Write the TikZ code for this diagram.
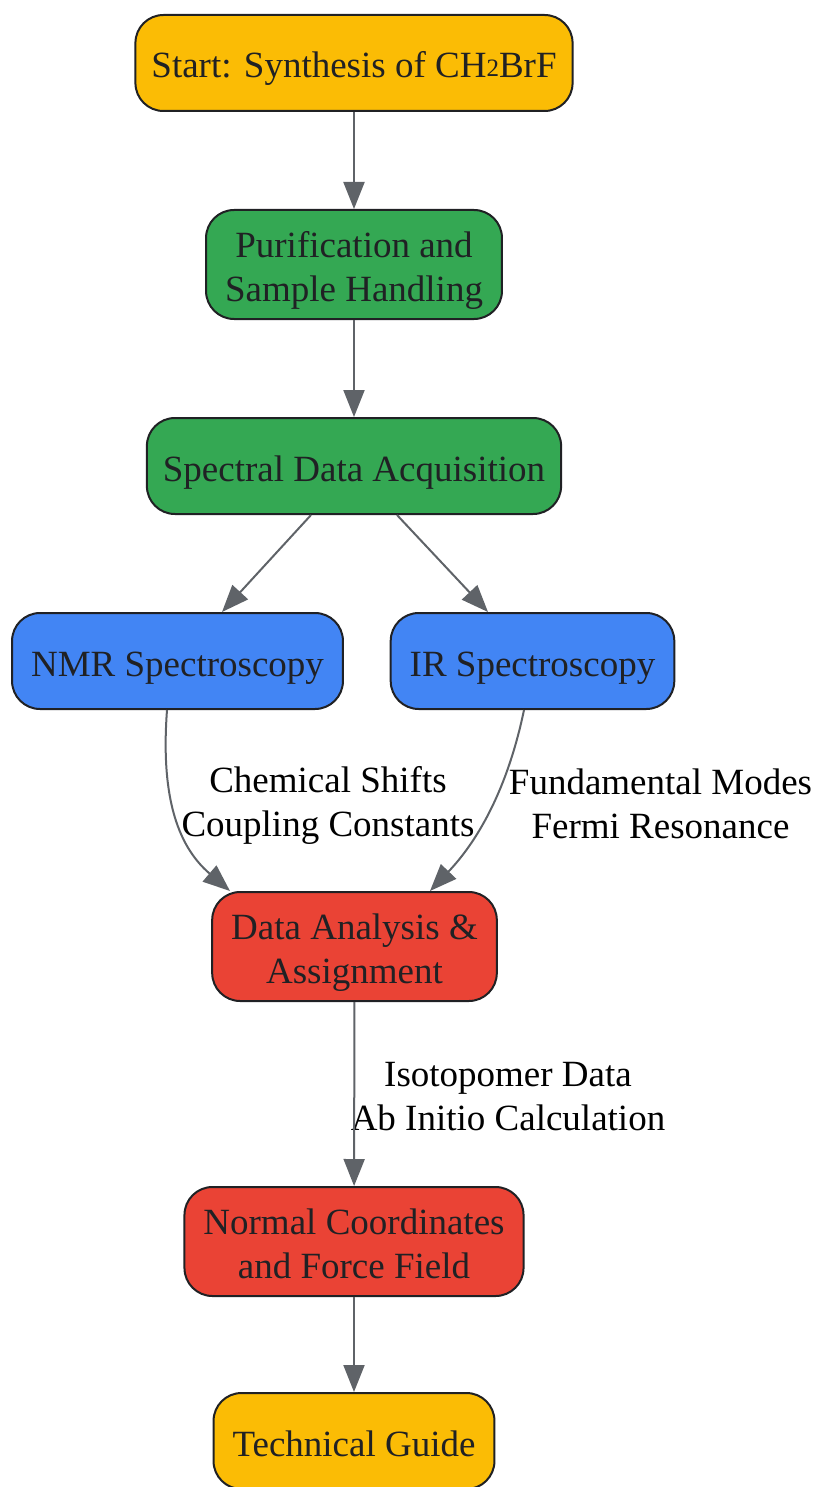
\documentclass[tikz,border=0pt]{standalone}
\usepackage{fontspec}
\setmainfont{Liberation Serif}
\usetikzlibrary{arrows.meta}

\definecolor{startyellow}{HTML}{FBBC05}
\definecolor{prepgreen}{HTML}{34A853}
\definecolor{specblue}{HTML}{4285F4}
\definecolor{anared}{HTML}{EA4335}
\definecolor{edgegray}{HTML}{5F6368}
\definecolor{boxline}{HTML}{202124}

\newcommand{\subtwo}{\raisebox{1pt}{\fontsize{25}{25}\selectfont 2}}

\tikzset{
  box/.style={draw=boxline, line width=2pt, rounded corners=28pt, text=boxline,
    align=center, inner xsep=19pt, inner ysep=8.5pt, minimum height=96pt,
    text height=39pt, text depth=9pt,
    font=\fontsize{37}{44}\selectfont},
  twoline/.style={text height=83pt},
  flow/.style={draw=edgegray, line width=2pt, -{Triangle[length=27pt,width=21pt]}},
  elabel/.style={align=center, text=black, font=\fontsize{37}{44}\selectfont}
}

\begin{document}
\begin{tikzpicture}[x=1pt, y=-1pt]

  % Bounding box of the scheme
  \useasboundingbox (0,0) rectangle (817,1487);

  %%%%%%%%%%%%%%%%%%%%%%%%%%%%%%%%% Boxes %%%%%%%%%%%%%%%%%%%%%%%%%%%%%%%%%%%%
  \node[box, fill=startyellow, inner xsep=16pt] (Start) at (354,63) {Start: Synthesis of CH\subtwo BrF};
  \node[box, twoline, fill=prepgreen] (Purif) at (354,264.5) {Purification and\\Sample Handling};
  \node[box, fill=prepgreen, inner xsep=16pt] (Acq) at (354,466) {Spectral Data Acquisition};
  \node[box, fill=specblue] (NMR) at (177.5,661) {NMR Spectroscopy};
  \node[box, fill=specblue] (IR) at (532.5,661) {IR Spectroscopy};
  \node[box, twoline, fill=anared] (Anal) at (354.5,946.5) {Data Analysis \&\\Assignment};
  \node[box, twoline, fill=anared] (Norm) at (354,1241.5) {Normal Coordinates\\and Force Field};
  \node[box, fill=startyellow] (Guide) at (354,1441) {Technical Guide};

  %%%%%%%%%%%%%%%%%%%%%%%%%%%%%%%%% Labels %%%%%%%%%%%%%%%%%%%%%%%%%%%%%%%%%%%
  \node[elabel] (LabNMR) at (328,805) {Chemical Shifts\\Coupling Constants};
  \node[elabel] (LabIR) at (660.5,804) {Fundamental Modes\\Fermi Resonance};
  \node[elabel] (LabNorm) at (508,1097) {Isotopomer Data\\Ab Initio Calculation};

  %%%%%%%%%%%%%%%%%%%%%%%%%%%%%%%%% Arrows %%%%%%%%%%%%%%%%%%%%%%%%%%%%%%%%%%%
  \draw[flow] (Start) -- (Purif);
  \draw[flow] (Purif) -- (Acq);
  \draw[flow] ([xshift=-43pt]Acq.south) -- ([xshift=44.5pt]NMR.north);
  \draw[flow] ([xshift=43pt]Acq.south) -- ([xshift=-44.5pt]IR.north);
  \draw[flow] ([xshift=-10.5pt]NMR.south) .. controls +(-6,81) and +(-55,-47) .. ([xshift=-124.5pt]Anal.north);
  \draw[flow] ([xshift=-8.5pt]IR.south) .. controls +(-19,91) and +(40,-42) .. ([xshift=75.5pt]Anal.north);
  \draw[flow] (Anal) -- (Norm);
  \draw[flow] (Norm) -- (Guide);

\end{tikzpicture}
\end{document}
